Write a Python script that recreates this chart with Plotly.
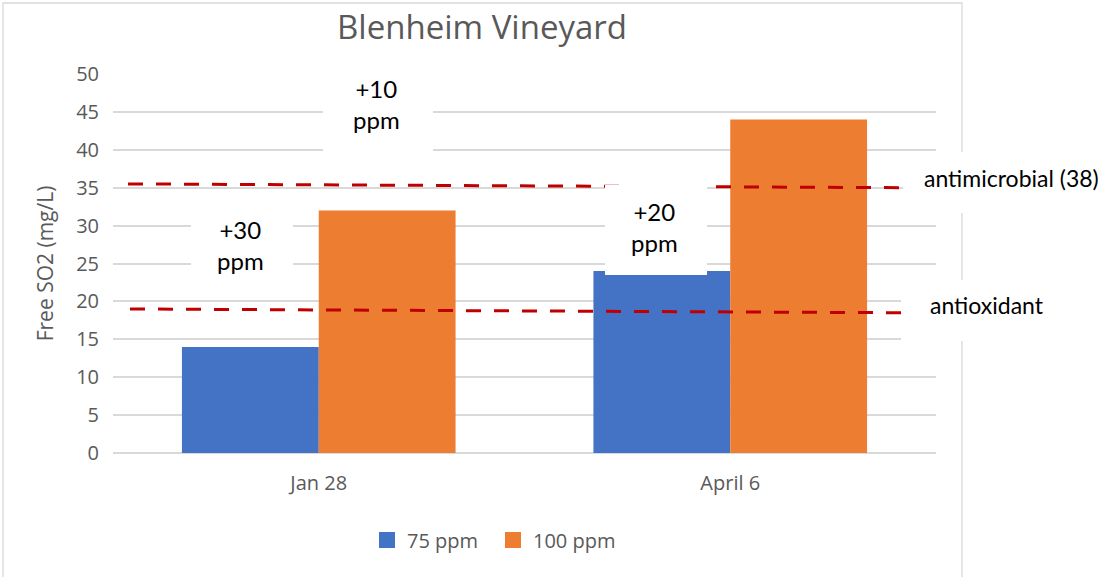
import plotly.graph_objects as go

# ---- data ----
categories = ["Jan 28", "April 6"]
series_names = ["75 ppm", "100 ppm"]
values_75 = [14, 24]
values_100 = [32, 44]
colors = ["#4472C4", "#ED7D31"]

threshold_labels = ["antimicrobial (38)", "antioxidant"]
threshold_start = [35.5, 19.0]   # value at left end of dashed line
threshold_end = [35.0, 18.5]     # value at right end of dashed line

increase_labels = ["+30<br>ppm", "+10<br>ppm", "+20<br>ppm"]

y_ticks = list(range(0, 55, 5))

# ---- layout geometry (pixels) ----
W, H = 1117, 577
L, R, T, B = 113, 936, 74, 453


def px(x):
    return (x - L) / (R - L)


def py(y):
    return (B - y) / (B - T)


GRAY = "#595959"
GRID = "#D9D9D9"
TXT_FONT = "Open Sans"
BLK_FONT = "Lato"

fig = go.Figure()
fig.add_trace(go.Bar(x=categories, y=values_75, name=series_names[0],
                     marker=dict(color=colors[0], line=dict(width=0)), showlegend=False))
fig.add_trace(go.Bar(x=categories, y=values_100, name=series_names[1],
                     marker=dict(color=colors[1], line=dict(width=0)), showlegend=False))
for name, c in zip(series_names, colors):
    fig.add_trace(go.Scatter(x=[None], y=[None], mode="markers", name=name,
                             marker=dict(symbol="square", size=18, color=c)))

shapes = []
# chart border
shapes.append(dict(type="rect", xref="paper", yref="paper",
                   x0=px(3), x1=px(962), y0=py(3), y1=py(590),
                   line=dict(color=GRID, width=1.3), fillcolor="rgba(0,0,0,0)",
                   layer="below"))
# dashed threshold lines
line_x = [(px(128), px(900)), (px(130), px(903))]
for (x0, x1), y0, y1 in zip(line_x, threshold_start, threshold_end):
    shapes.append(dict(type="line", xref="paper", yref="y", x0=x0, x1=x1, y0=y0, y1=y1,
                       line=dict(color="#C00000", width=3, dash="15px,13px"), layer="above"))
# white label boxes
boxes = [(191, 293, 198, 292), (323, 433, 62, 160), (605, 707, 185, 275),
         (903, 1120, 152, 213), (901, 1120, 280, 341)]
for x0, x1, y0, y1 in boxes:
    shapes.append(dict(type="rect", xref="paper", yref="paper",
                       x0=px(x0), x1=px(x1), y0=py(y0), y1=py(y1),
                       line=dict(width=0), fillcolor="white", layer="above"))

annotations = []
inc_pos = [(240, 245), (376, 104), (654, 227)]
for t, (x, y) in zip(increase_labels, inc_pos):
    annotations.append(dict(text=t, xref="paper", yref="paper", x=px(x), y=py(y),
                            xanchor="center", yanchor="middle", showarrow=False, align="center",
                            font=dict(family=BLK_FONT, size=24, color="black")))
lab_pos = [(922, 178), (928, 305)]
for t, (x, y) in zip(threshold_labels, lab_pos):
    annotations.append(dict(text=t, xref="paper", yref="paper", x=px(x), y=py(y),
                            xanchor="left", yanchor="middle", showarrow=False,
                            font=dict(family=BLK_FONT, size=23, color="black")))

fig.update_layout(
    width=W, height=H,
    margin=dict(l=L, r=W - R, t=T, b=H - B, pad=0),
    paper_bgcolor="white", plot_bgcolor="white",
    barmode="group", bargap=0.335, bargroupgap=0,
    title=dict(text="Blenheim Vineyard", x=482 / W, xref="container", xanchor="center",
               y=1 - 27 / H, yref="container", yanchor="middle",
               font=dict(family=TXT_FONT, size=33, color=GRAY)),
    xaxis=dict(showgrid=False, showline=False, zeroline=False, ticks="",
               tickfont=dict(family=TXT_FONT, size=20, color=GRAY),
               ticklabelstandoff=16, range=[-0.5, 1.5]),
    yaxis=dict(range=[0, 50], tickvals=y_ticks, showgrid=True, gridcolor=GRID, gridwidth=1.5,
               zeroline=True, zerolinecolor=GRID, zerolinewidth=1.5, showline=False, ticks="",
               tickfont=dict(family=TXT_FONT, size=20, color=GRAY), ticklabelstandoff=13,
               title=dict(text="Free SO2 (mg/L)", standoff=16,
                          font=dict(family=TXT_FONT, size=21, color=GRAY))),
    legend=dict(orientation="h", xref="container", yref="container",
                x=493 / W, xanchor="center", y=1 - 540 / H, yanchor="middle",
                entrywidth=81, entrywidthmode="pixels",
                font=dict(family=TXT_FONT, size=20, color=GRAY), itemclick=False,
                bgcolor="rgba(0,0,0,0)"),
    shapes=shapes,
    annotations=annotations,
)

fig.write_html("out.html", config={"displayModeBar": False},
               post_script="document.body.style.margin='0';")
